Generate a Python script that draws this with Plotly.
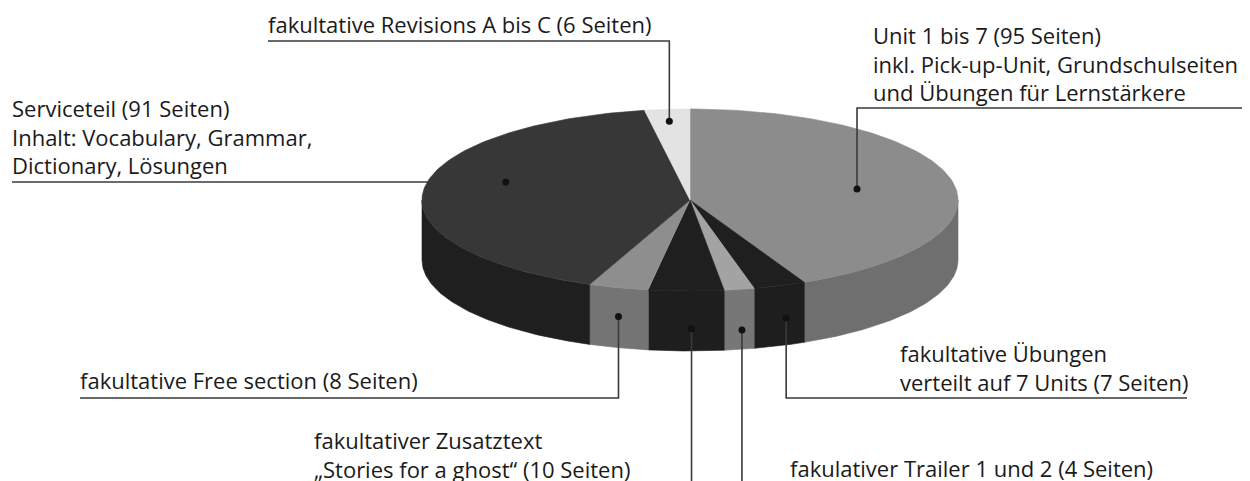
import numpy as np
import plotly.graph_objects as go

# ---- data (clockwise from 12 o'clock) ----
slice_names = ["Unit 1 bis 7", "fakultative Übungen", "fakulativer Trailer 1 und 2",
               "fakultativer Zusatztext", "fakultative Free section", "Serviceteil",
               "fakultative Revisions A bis C"]
slice_pages = [95, 7, 4, 10, 8, 91, 6]

label_texts = [
    "Unit 1 bis 7 (95 Seiten)<br>inkl. Pick-up-Unit, Grundschulseiten<br>und Übungen für Lernstärkere",
    "fakultative Übungen<br>verteilt auf 7 Units (7 Seiten)",
    "fakulativer Trailer 1 und 2 (4 Seiten)",
    "fakultativer Zusatztext<br>„Stories for a ghost“ (10 Seiten)",
    "fakultative Free section (8 Seiten)",
    "Serviceteil (91 Seiten)<br>Inhalt: Vocabulary, Grammar,<br>Dictionary, Lösungen",
    "fakultative Revisions A bis C (6 Seiten)",
]

# ---- styles ----
top_colors = ["#8c8c8c", "#1f1f1f", "#a3a3a3", "#1f1f1f", "#8e8e8e", "#373737", "#e3e3e3"]
side_colors = ["#6f6f6f", "#1e1e1e", "#777777", "#1e1e1e", "#747474", "#1f1f1f", "#c8c8c8"]
CX, CY, RX, RY, DEPTH = 690, 200, 268, 91, 60
W, H = 1250, 481
OFF = 8  # page body margin
FONT = dict(family="Open Sans", size=22, color="#1a1a1a")
LINE_COLOR = "#3a3a3a"

# dot anchor: (face, t along slice, radial/depth fraction)
dot_spec = [("top", 0.51, 0.635), ("side", 0.37, 0.55), ("side", 0.41, 0.68),
            ("side", 0.43, 0.63), ("side", 0.5, 0.48), ("top", 0.567, 0.715),
            ("top", 0.48, 0.87)]
# leader route: (first vertical target y or None, horizontal end x or None)
routes = [(108, W), (398, 1187), (H, None), (H, None), (398, 80), (None, 12), (41, 268)]
# text: x, y, yanchor
text_pos = [(871, 109, "bottom"), (898, 399, "bottom"), (788, 468, "middle"),
            (312, 454, "middle"), (78, 397, "bottom"), (10, 182, "bottom"),
            (266, 41, "bottom")]

total = float(sum(slice_pages))
bounds = [90.0]
for p in slice_pages:
    bounds.append(bounds[-1] - p / total * 360.0)


def ex(a, r=1.0):
    return CX + RX * r * np.cos(np.radians(a))


def ey(a, r=1.0):
    return CY - RY * r * np.sin(np.radians(a))


fig = go.Figure()

# side faces
for i in range(len(slice_pages)):
    a0, a1 = bounds[i], bounds[i + 1]  # a0 > a1
    hi, lo = min(a0, 0.0), max(a1, -180.0)
    if hi <= lo:
        continue
    ang = np.linspace(hi, lo, 80)
    xs = list(ex(ang)) + list(ex(ang[::-1]))
    ys = list(ey(ang)) + list(ey(ang[::-1]) + DEPTH)
    fig.add_trace(go.Scatter(x=xs + [xs[0]], y=ys + [ys[0]], mode="lines", fill="toself",
                             fillcolor=side_colors[i], line=dict(color=side_colors[i], width=0.6),
                             hoverinfo="skip", showlegend=False))

# top faces
for i in range(len(slice_pages)):
    a0, a1 = bounds[i], bounds[i + 1]
    ang = np.linspace(a0, a1, 120)
    xs = [CX] + list(ex(ang)) + [CX]
    ys = [CY] + list(ey(ang)) + [CY]
    fig.add_trace(go.Scatter(x=xs, y=ys, mode="lines", fill="toself",
                             fillcolor=top_colors[i], line=dict(color=top_colors[i], width=0.6),
                             hoverinfo="skip", showlegend=False))

# leaders, dots and labels
dx, dy = [], []
for i in range(len(slice_pages)):
    a0, a1 = bounds[i], bounds[i + 1]
    face, t, f = dot_spec[i]
    a = a0 + (a1 - a0) * t
    if face == "top":
        px, py = ex(a, f), ey(a, f)
    else:
        px, py = ex(a), ey(a) + DEPTH * f
    dx.append(px)
    dy.append(py)
    vy, hx = routes[i]
    lx, ly = [px], [py]
    if vy is not None:
        lx.append(px)
        ly.append(vy)
    if hx is not None:
        lx.append(hx)
        ly.append(ly[-1])
    fig.add_trace(go.Scatter(x=lx, y=ly, mode="lines", line=dict(color=LINE_COLOR, width=1.6),
                             hoverinfo="skip", showlegend=False))
    tx, ty, ya = text_pos[i]
    fig.add_annotation(x=tx, y=ty, text=label_texts[i], showarrow=False, xanchor="left",
                       yanchor=ya, align="left", font=FONT, xref="x", yref="y")

fig.add_trace(go.Scatter(x=dx, y=dy, mode="markers", marker=dict(color="#111111", size=7),
                         hoverinfo="skip", showlegend=False))

fig.update_layout(width=W - OFF, height=H - OFF, margin=dict(l=0, r=0, t=0, b=0),
                  paper_bgcolor="white", plot_bgcolor="white",
                  xaxis=dict(range=[OFF, W], visible=False, fixedrange=True),
                  yaxis=dict(range=[H, OFF], visible=False, fixedrange=True),
                  showlegend=False)
fig.write_html("out.html")
